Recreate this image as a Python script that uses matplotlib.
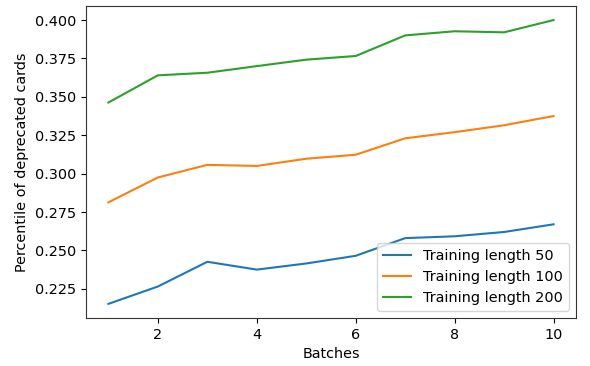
import matplotlib
matplotlib.use("Agg")
import matplotlib.pyplot as plt

batches = [1, 2, 3, 4, 5, 6, 7, 8, 9, 10]
len_50 = [0.2152, 0.2265, 0.2426, 0.2375, 0.2415, 0.2465, 0.2580, 0.2592, 0.2620, 0.2670]
len_100 = [0.2813, 0.2975, 0.3057, 0.3050, 0.3097, 0.3123, 0.3230, 0.3270, 0.3315, 0.3375]
len_200 = [0.3463, 0.3640, 0.3657, 0.3700, 0.3742, 0.3766, 0.3900, 0.3927, 0.3920, 0.4000]

plt.rcParams["font.size"] = 10.4
plt.rcParams["axes.edgecolor"] = "#333333"

fig, ax = plt.subplots(figsize=(5.9, 3.66), dpi=100)
fig.subplots_adjust(left=0.146, right=0.976, top=0.984, bottom=0.131)

ax.plot(batches, len_50, label="Training length 50")
ax.plot(batches, len_100, label="Training length 100")
ax.plot(batches, len_200, label="Training length 200")

ax.set_xlabel("Batches")
ax.set_ylabel("Percentile of deprecated cards")
ax.set_xticks([2, 4, 6, 8, 10])
ax.legend(loc="lower right")

plt.savefig("out.png")
